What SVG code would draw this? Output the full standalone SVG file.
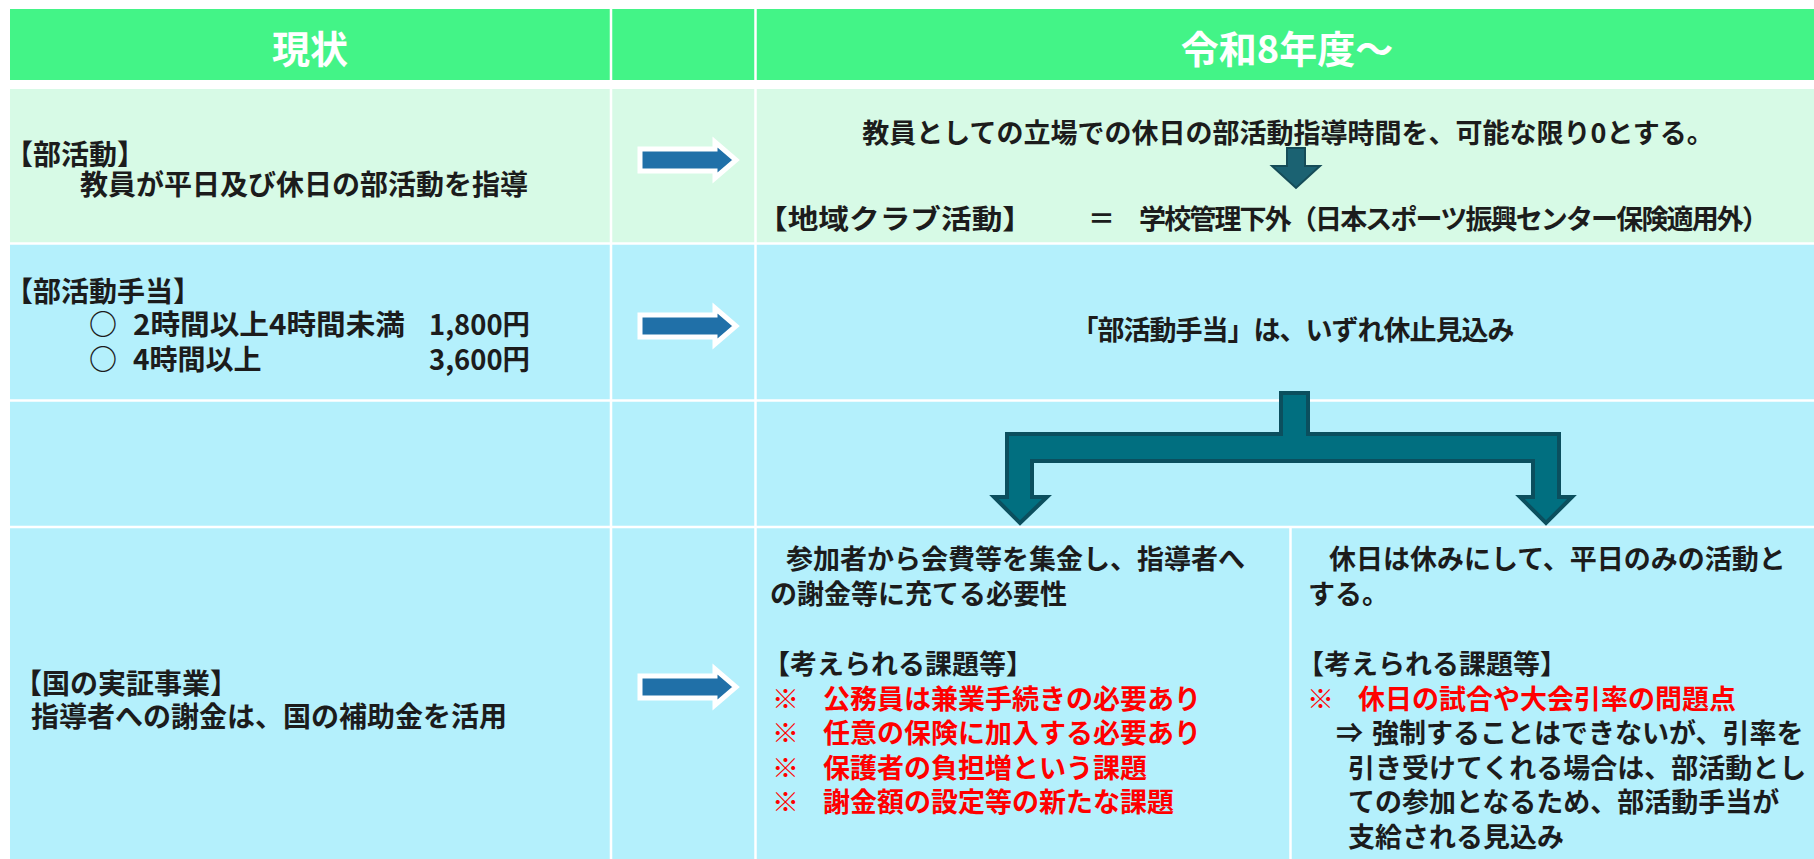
<svg xmlns="http://www.w3.org/2000/svg" width="1814" height="859" viewBox="0 0 1814 859">
<style>
text{font-family:'Noto Sans CJK JP','Noto Sans CJK SC',sans-serif;font-weight:700;dominant-baseline:central}
.h{fill:#ffffff;font-size:38px;text-anchor:middle}
.t{fill:#1c1c1c;font-size:27px}
.l{font-size:28px}
.r{fill:#ff0000;font-size:27px}
.c{text-anchor:middle}
.grid{stroke:#ffffff;stroke-width:2.5}
.rarrow{fill:#2070a8;stroke:#ffffff;stroke-width:5;stroke-linejoin:miter}
.tarrow{fill:#016f80;stroke:#0b4f5e;stroke-width:4;stroke-linejoin:miter}
</style>
<rect x="0" y="0" width="1814" height="859" fill="#ffffff"/>
<g id="table-bg">
<rect x="10" y="9" width="1804" height="71" fill="#43f487"/>
<rect x="10" y="89" width="1804" height="154" fill="#d7fae6"/>
<rect x="10" y="243" width="1804" height="616" fill="#b4f0fc"/>
<line class="grid" x1="10" y1="243.5" x2="1814" y2="243.5"/>
<line class="grid" x1="10" y1="400.5" x2="1814" y2="400.5"/>
<line class="grid" x1="10" y1="527" x2="1814" y2="527"/>
<line class="grid" x1="611" y1="9" x2="611" y2="859"/>
<line class="grid" x1="755.5" y1="9" x2="755.5" y2="859"/>
<line class="grid" x1="1290.5" y1="527" x2="1290.5" y2="859"/>
</g>
<g id="header-current"><text class="h" x="310" y="46">現状</text></g>
<g id="header-r8"><text class="h" x="1287" y="46">令和8年度～</text></g>
<g id="row1-current">
<text class="t l" x="5" y="153">【部活動】</text>
<text class="t l" x="80" y="183">教員が平日及び休日の部活動を指導</text>
</g>
<g id="row1-future">
<text class="t c" x="1288" y="131">教員としての立場での休日の部活動指導時間を、可能な限り0とする。</text>
<text class="t" x="757" y="217" textLength="276" lengthAdjust="spacingAndGlyphs">【地域クラブ活動】</text>
<text class="t" x="1088" y="217">＝</text>
<text class="t" x="1139" y="217" textLength="630">学校管理下外（日本スポーツ振興センター保険適用外）</text>
</g>
<g id="row2-current">
<text class="t l" x="5" y="290">【部活動手当】</text>
<text class="t l" x="89" y="323">○</text>
<text class="t l" x="133" y="323" textLength="272" lengthAdjust="spacingAndGlyphs">2時間以上4時間未満</text>
<text class="t l" x="429" y="323" textLength="101" lengthAdjust="spacingAndGlyphs">1,800円</text>
<text class="t l" x="89" y="358">○</text>
<text class="t l" x="133" y="358">4時間以上</text>
<text class="t l" x="429" y="358" textLength="101" lengthAdjust="spacingAndGlyphs">3,600円</text>
</g>
<g id="row2-future">
<text class="t c" x="1293" y="328" textLength="443">「部活動手当」は、いずれ休止見込み</text>
</g>
<g id="row4-current">
<text class="t l" x="14" y="682">【国の実証事業】</text>
<text class="t l" x="31" y="715">指導者への謝金は、国の補助金を活用</text>
</g>
<g id="row4-option-a">
<text class="t" x="786" y="557">参加者から会費等を集金し、指導者へ</text>
<text class="t" x="770" y="592">の謝金等に充てる必要性</text>
<text class="t" x="763" y="662">【考えられる課題等】</text>
<text class="r" x="772" y="697">※<tspan x="823">公務員は兼業手続きの必要あり</tspan></text>
<text class="r" x="772" y="731">※<tspan x="823">任意の保険に加入する必要あり</tspan></text>
<text class="r" x="772" y="766">※<tspan x="823">保護者の負担増という課題</tspan></text>
<text class="r" x="772" y="800">※<tspan x="823">謝金額の設定等の新たな課題</tspan></text>
</g>
<g id="row4-option-b">
<text class="t" x="1329" y="557">休日は休みにして、平日のみの活動と</text>
<text class="t" x="1308" y="592">する。</text>
<text class="t" x="1297" y="662">【考えられる課題等】</text>
<text class="r" x="1307" y="697">※<tspan x="1358">休日の試合や大会引率の問題点</tspan></text>
<text class="t" x="1336" y="731">⇒</text>
<text class="t" x="1372" y="731">強制することはできないが、引率を</text>
<text class="t" x="1348" y="766">引き受けてくれる場合は、部活動とし</text>
<text class="t" x="1348" y="800">ての参加となるため、部活動手当が</text>
<text class="t" x="1348" y="835">支給される見込み</text>
</g>
<g id="connectors">
<polygon class="rarrow" points="640,149 715,149 715,142 736,160 715,178 715,171 640,171"/>
<polygon class="rarrow" points="640,315 715,315 715,308 736,326 715,344 715,337 640,337"/>
<polygon class="rarrow" points="640,676 715,676 715,669 736,687 715,705 715,698 640,698"/>
<polygon fill="#1b6272" stroke="#154c58" stroke-width="2" points="1287,148 1305,148 1305,166 1320,166 1296,188 1272,166 1287,166"/>
<polygon class="tarrow" points="1281,393 1308,393 1308,434 1559,434 1559,497 1572,497 1546,523 1520,497 1533,497 1533,461 1032,461 1032,497 1047,497 1020,523 994,497 1007,497 1007,434 1281,434"/>
</g>
</svg>
